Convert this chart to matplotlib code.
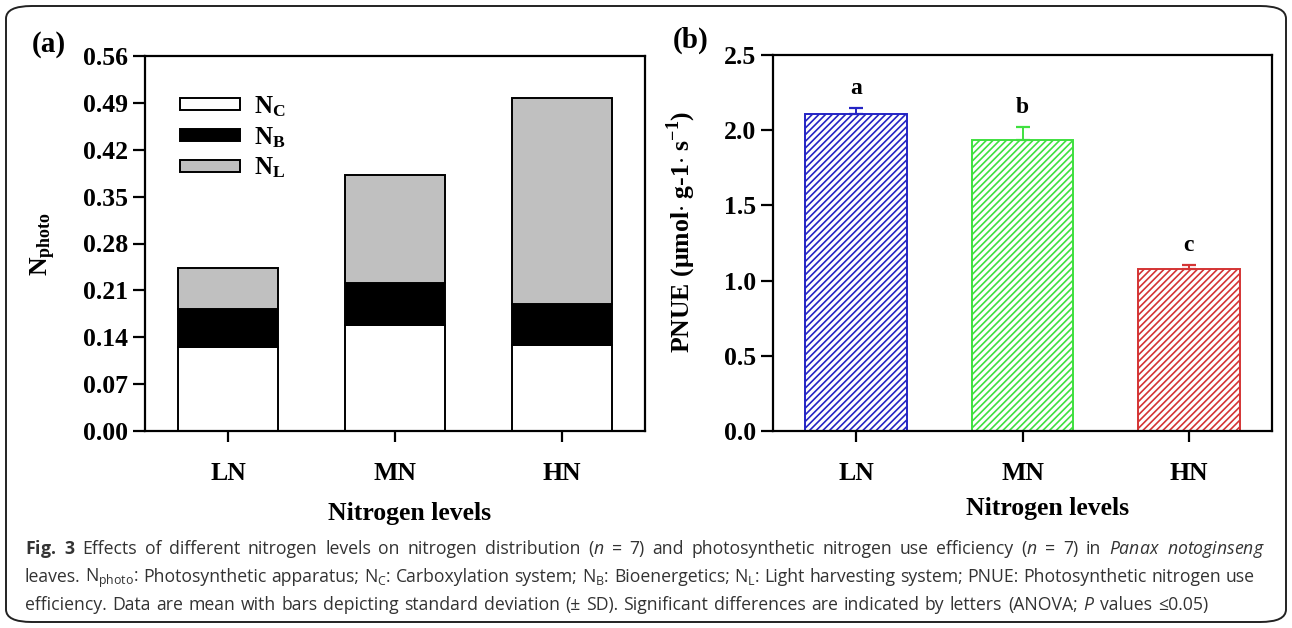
import numpy as np
import matplotlib
matplotlib.use('Agg')
import matplotlib.pyplot as plt
from matplotlib.patches import FancyBboxPatch

# 데이터
levels = ['LN', 'MN', 'HN']
n_c = [0.125, 0.159, 0.128]
n_b = [0.057, 0.062, 0.062]
n_l = [0.061, 0.162, 0.308]
pnue = [2.110, 1.934, 1.074]
pnue_sd = [0.036, 0.087, 0.029]
letters = ['a', 'b', 'c']
bar_colors = ['#2424c4', '#3fe03f', '#d43434']

cap_font = 'Open Sans'

plt.rcParams['font.family'] = 'Liberation Serif'
plt.rcParams['font.weight'] = 'bold'
plt.rcParams['axes.labelweight'] = 'bold'
plt.rcParams['mathtext.fontset'] = 'custom'
plt.rcParams['mathtext.rm'] = 'Liberation Serif:weight=bold'
plt.rcParams['mathtext.sf'] = cap_font + ':weight=normal'
plt.rcParams['mathtext.it'] = cap_font + ':style=italic:weight=normal'
plt.rcParams['mathtext.bf'] = cap_font + ':weight=bold'
plt.rcParams['hatch.linewidth'] = 1.2

W, H = 1292, 628
fig = plt.figure(figsize=(W / 100, H / 100), dpi=100)

# 바깥 둥근 테두리
frame = FancyBboxPatch((6 / W, 6 / H), 1 - 12 / W, 1 - 12 / H,
                       boxstyle='round,pad=0,rounding_size=0.02',
                       transform=fig.transFigure, fill=False,
                       edgecolor='#222222', linewidth=1.4)
fig.patches.append(frame)

x = np.arange(len(levels))
fs = 18.5

def style_axes(ax):
    for s in ax.spines.values():
        s.set_linewidth(1.6)
    ax.tick_params(axis='y', direction='out', length=9, width=1.6, labelsize=fs, pad=3, right=False)
    ax.tick_params(axis='x', direction='out', length=8, width=1.6, labelsize=fs, pad=14, top=False)
    ax.set_xlim(-0.5, 2.5)
    ax.set_xticks(x)
    ax.set_xticklabels(levels)

# (a) 누적 막대
ax1 = fig.add_axes([145 / W, (H - 431) / H, 500 / W, 375 / H])
ax1.bar(x, n_c, width=0.6, color='white', edgecolor='black', linewidth=1.4, label=r'$\mathrm{N_C}$')
ax1.bar(x, n_b, width=0.6, bottom=n_c, color='black', edgecolor='black', linewidth=1.4, label=r'$\mathrm{N_B}$')
bottom2 = np.array(n_c) + np.array(n_b)
ax1.bar(x, n_l, width=0.6, bottom=bottom2, color='#c0c0c0', edgecolor='black', linewidth=1.4, label=r'$\mathrm{N_L}$')
ax1.set_ylim(0, 0.56)
ax1.set_yticks(np.arange(0, 0.561, 0.07))
ax1.set_yticklabels([f'{v:.2f}' for v in np.arange(0, 0.561, 0.07)])
style_axes(ax1)
ax1.set_ylabel(r'$\mathrm{N_{photo}}$', fontsize=fs)
ax1.yaxis.set_label_coords(-0.174, 0.5)
ax1.set_xlabel('Nitrogen levels', fontsize=fs)
ax1.xaxis.set_label_coords(0.53, -0.219)
ax1.xaxis.label.set_va('center')
ax1.legend(loc='upper left', bbox_to_anchor=(0.05, 0.925), frameon=False,
           fontsize=18, handlelength=2.4, handleheight=0.38, labelspacing=0.25,
           handletextpad=0.55, borderaxespad=0)

# (b) PNUE
ax2 = fig.add_axes([773 / W, (H - 431) / H, 499 / W, 376 / H])
for i in range(len(levels)):
    ax2.bar(x[i], pnue[i], width=0.61, color='white', edgecolor=bar_colors[i],
            hatch='/////', linewidth=1.4)
    ax2.errorbar(x[i], pnue[i], yerr=[[0], [pnue_sd[i]]], fmt='none',
                 ecolor=bar_colors[i], elinewidth=1.4, capsize=5.2, capthick=1.6)
    ax2.text(x[i], pnue[i] + pnue_sd[i] + 0.13, letters[i], ha='center', va='center', fontsize=17)
ax2.set_ylim(0, 2.5)
ax2.set_yticks(np.arange(0, 2.51, 0.5))
ax2.set_yticklabels([f'{v:.1f}' for v in np.arange(0, 2.51, 0.5)])
style_axes(ax2)
ax2.set_ylabel(r'PNUE (μmol$\cdot$ g-1$\cdot$ s$^{\mathrm{-1}}$)', fontsize=fs)
ax2.yaxis.set_label_coords(-0.15, 0.53)
ax2.set_xlabel('Nitrogen levels', fontsize=fs)
ax2.xaxis.set_label_coords(0.55, -0.205)
ax2.xaxis.label.set_va('center')

fig.text(49 / W, 1 - 45 / H, '(a)', fontsize=21, ha='center', va='center')
fig.text(691 / W, 1 - 40 / H, '(b)', fontsize=21, ha='center', va='center')

# 캡션 (단어 간격을 조정해서 줄 길이 맞춤)
cap_lines = [
    r'$\mathbf{Fig.}$ $\mathbf{3}$ Effects of different nitrogen levels on nitrogen distribution ($\mathit{n}$ = 7) and photosynthetic nitrogen use efficiency ($\mathit{n}$ = 7) in $\mathit{Panax}$ $\mathit{notoginseng}$',
    r'leaves. N$_{\mathsf{photo}}$: Photosynthetic apparatus; N$_{\mathsf{C}}$: Carboxylation system; N$_{\mathsf{B}}$: Bioenergetics; N$_{\mathsf{L}}$: Light harvesting system; PNUE: Photosynthetic nitrogen use',
    r'efficiency. Data are mean with bars depicting standard deviation (± SD). Significant differences are indicated by letters (ANOVA; $\mathit{P}$ values ≤0.05)',
]
cap_base = [554, 582, 610]
cap_w = [1240, 1230, 1183]
x0 = 25
r = fig.canvas.get_renderer()

def cap_text(s, xx, yy, size):
    return fig.text(xx / W, 1 - yy / H, s, fontsize=size, family=[cap_font, 'DejaVu Sans'],
                    fontweight='normal', color='#333333', ha='left', va='baseline')

# 글자 크기: 가장 긴 줄 기준
size = 14
tmp = [cap_text(s, x0, yy, size) for s, yy in zip(cap_lines, cap_base)]
size = size * min(tw / t.get_window_extent(r).width for t, tw in zip(tmp, cap_w))
for t in tmp:
    t.remove()

for s, yy, tw in zip(cap_lines, cap_base, cap_w):
    words = s.split(' ')
    objs = [cap_text(w_, x0, yy, size) for w_ in words]
    widths = [o.get_window_extent(r).width for o in objs]
    gap = (tw - sum(widths)) / (len(words) - 1)
    xx = x0
    for o, ww in zip(objs, widths):
        o.set_x(xx / W)
        xx += ww + gap

fig.savefig('out.png', dpi=100)
